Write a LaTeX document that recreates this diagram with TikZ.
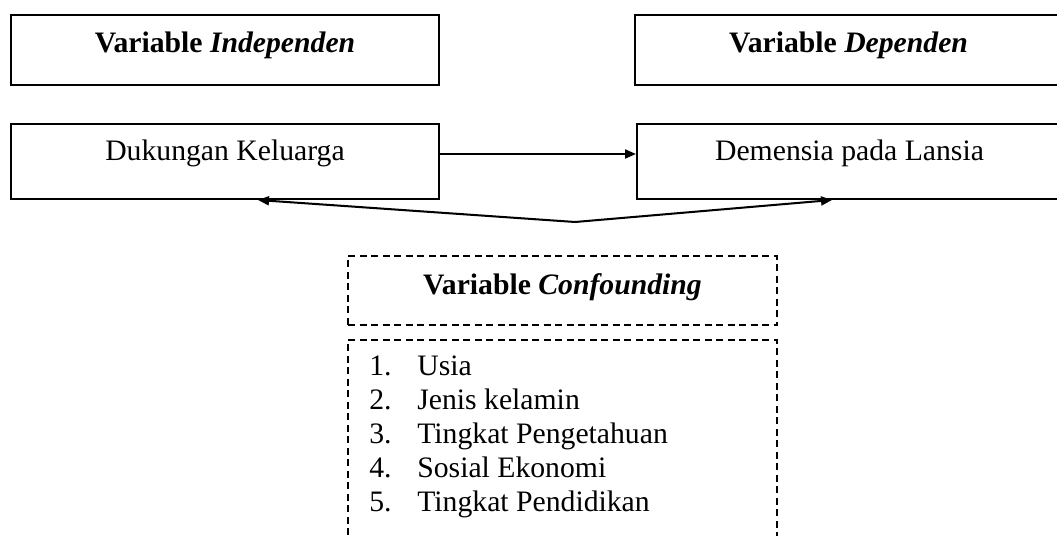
\documentclass[tikz,border=0pt]{standalone}
\usepackage{fontspec}
\setmainfont{Liberation Serif}
\usetikzlibrary{arrows.meta,positioning}

\begin{document}
\begin{tikzpicture}[
    varbox/.style={draw, line width=1.15pt, inner sep=0pt},
    dashbox/.style={draw, line width=1.15pt, inner sep=0pt, dash pattern=on 0.14cm off 0.09cm},
    tip/.style={line width=1.15pt, -{Triangle[length=0.22cm,width=0.18cm]}}
]
        \fontsize{16.9}{19.4}\selectfont
        \clip (0,0) rectangle (21.14,-10.72);

        %top row: variable headings
        \node[varbox, minimum width=8.56cm, text height=0.76cm, text depth=0.64cm] (indep) at (4.5,-1.0) {\textbf{Variable \textit{Independen}}};
        \node[varbox, minimum width=8.54cm, text height=0.76cm, text depth=0.64cm] (dep) at (16.97,-1.0) {\textbf{Variable \textit{Dependen}}};

        %second row: the variables
        \node[varbox, minimum width=8.56cm, text height=0.74cm, text depth=0.76cm] (dukungan) at (4.5,-3.23) {Dukungan Keluarga};
        \node[varbox, minimum width=8.5cm, text height=0.74cm, text depth=0.76cm] (demensia) at (16.99,-3.23) {Demensia pada Lansia};

        %arrow from independent to dependent
        \draw [tip] ([yshift=0.15cm]dukungan.east) -- ([yshift=0.15cm]demensia.west);

        %confounding heading
        \node[dashbox, minimum width=8.58cm, text height=0.78cm, text depth=0.6cm] (confounding) at (11.25,-5.81) {\textbf{Variable \textit{Confounding}}};

        %list of confounders (open at the bottom)
        \node[dashbox, minimum width=8.58cm, minimum height=4.6cm, anchor=north] (faktor) at (11.25,-6.78) {};
        \node[anchor=base west, inner sep=0pt] (daftar) at ([xshift=0.44cm,yshift=-0.72cm]faktor.north west) {%
            \begin{tabular}[t]{@{}l@{}}
            \makebox[0.96cm][l]{1.}Usia\\
            \makebox[0.96cm][l]{2.}Jenis kelamin\\
            \makebox[0.96cm][l]{3.}Tingkat Pengetahuan\\
            \makebox[0.96cm][l]{4.}Sosial Ekonomi\\
            \makebox[0.96cm][l]{5.}Tingkat Pendidikan
            \end{tabular}};

        %confounding arrows to both variables
        \coordinate (apex) at (11.5,-4.44);
        \draw [tip] (apex) -- ([xshift=0.66cm]dukungan.south);
        \draw [tip] (apex) -- ([xshift=-0.35cm]demensia.south);

\end{tikzpicture}
\end{document}
